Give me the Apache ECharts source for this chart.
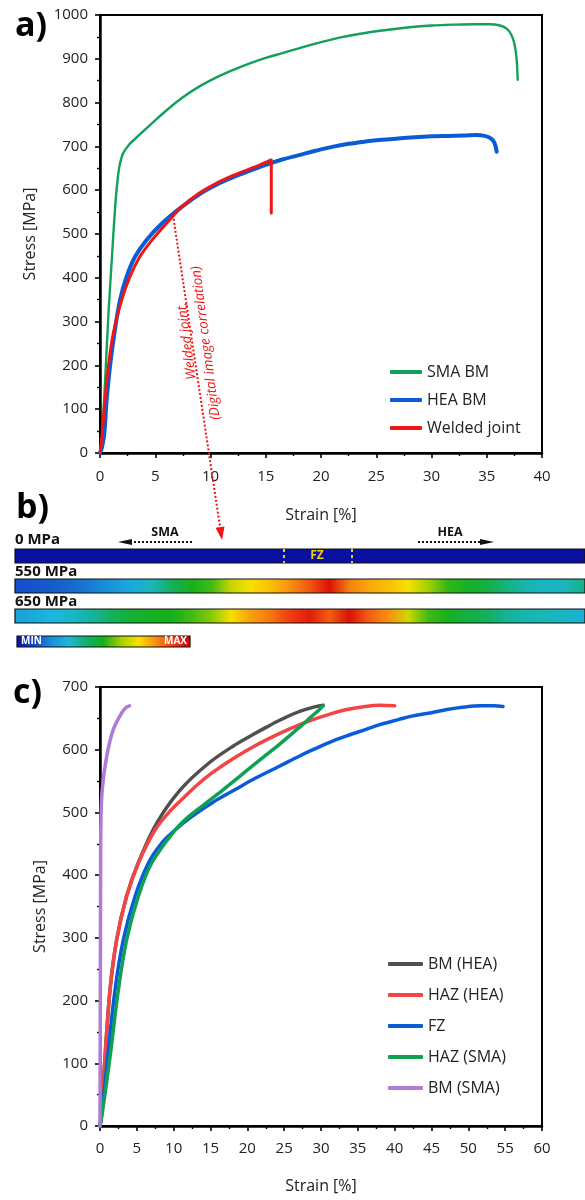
<!DOCTYPE html>
<html>
<head>
<meta charset="utf-8">
<script src="https://cdn.jsdelivr.net/npm/echarts@6/dist/echarts.min.js"></script>
<style>
  html, body { margin: 0; padding: 0; background: #fff; }
  #chart { width: 585px; height: 1200px; }
</style>
</head>
<body>
<div id="chart"></div>
<script>
// (a) tensile curves, [strain %, stress MPa]
const smaBM = [[0,0],[0.2,45],[0.45,159],[0.75,311],[1.12,463],[1.42,578],[1.62,630],[1.8,660],[2.1,685],[2.6,703],[3.2,718],[3.8,732],[4.5,748],[6,782],[7.5,812],[9,837],[10.5,857],[12,874],[13.5,889],[15,902],[16.5,913],[18,924],[20,938],[22,950],[24,959],[26,966],[28,972],[30,976],[32,978],[34,979],[35.3,979],[36.2,976],[36.8,969],[37.2,956],[37.5,935],[37.7,900],[37.8,852]];
const heaBM = [[0,0],[0.15,10],[0.39,45],[0.6,121],[0.9,197],[1.3,273],[1.81,349],[2.4,402],[3.17,448],[4.2,486],[5.6,524],[7.4,562],[9.2,594],[10.5,612],[12,629],[13.5,644],[15,658],[16.5,670],[18,680],[19.5,690],[21,699],[22.5,706],[24,711],[25.5,715],[27,718],[28.5,721],[30,723],[31.5,724],[33,725],[34,726],[34.8,724],[35.4,718],[35.7,708],[35.9,688]];
const weldedJoint = [[0,0],[0.15,30],[0.45,121],[0.75,197],[1.2,273],[1.96,349],[2.7,402],[3.6,448],[4.7,486],[6.0,524],[7.4,562],[8.9,592],[10.4,614],[12,633],[13.5,648],[14.5,658],[15.2,666],[15.5,669],[15.5,548]];

// (c) local curves of the joint zones, [strain %, stress MPa]
const bmHEA = [[0,0],[0.2,20],[0.68,110],[1.36,217],[2.26,297],[3.6,366],[5.2,420],[7.7,483],[10.9,536],[14.7,578],[18.1,606],[20.6,623],[22.6,636],[24.4,647],[27.1,661],[29,668],[30.3,671]];
const hazHEA = [[0,0],[0.2,20],[0.68,110],[1.36,217],[2.26,297],[3.6,366],[5.2,419],[7.47,472],[9.5,502],[11.5,525],[13.3,545],[15.2,563],[18.1,586],[21,606],[24.4,626],[27.1,640],[28.9,648],[31,656],[33.5,664],[36,669],[38,671],[40,670]];
const fzCurve = [[0,0],[0.25,20],[1.04,110],[2.04,217],[3.17,297],[4.75,366],[6.56,419],[8.3,450],[10.2,472],[12.4,493],[15.3,516],[18.3,536],[21,554],[24.4,574],[27.1,590],[28.9,600],[31,611],[33.5,622],[36,632],[38,640],[40.5,648],[42.5,654],[45,659],[47.1,664],[49.5,668],[51.6,670],[53.5,670],[54.7,669]];
const hazSMA = [[0,0],[0.3,20],[1.36,110],[2.49,217],[3.62,297],[5.2,366],[7.0,419],[10.2,472],[12.0,493],[14.3,514],[16.7,536],[18.8,556],[21.0,577],[22.6,592],[24.4,609],[25.6,621],[26.7,632],[27.8,643],[28.9,655],[29.7,663],[30.3,670]];
const bmSMA = [[0,0],[0.02,100],[0.05,250],[0.08,400],[0.12,483],[0.3,536],[0.9,589],[1.8,632],[2.9,658],[3.5,667],[4.0,670]];

// (b) normalised strain field (0 = min, 1 = max), sampled evenly from the SMA end to the HEA end
const fieldLevels = ['0 MPa', '550 MPa', '650 MPa'];
const field0 = [0,0,0,0,0,0,0,0,0,0,0,0,0,0,0,0,0,0,0,0,0,0,0,0,0,0,0,0,0,0];
const field550 = [0.11,0.12,0.13,0.15,0.18,0.22,0.27,0.33,0.42,0.5,0.53,0.64,0.7,0.74,0.8,0.87,0.97,0.82,0.77,0.74,0.7,0.6,0.52,0.49,0.45,0.38,0.34,0.32,0.33,0.38];
const field650 = [0.24,0.27,0.3,0.32,0.36,0.42,0.47,0.49,0.5,0.53,0.58,0.7,0.78,0.83,0.9,0.95,0.86,0.97,0.86,0.8,0.65,0.53,0.5,0.45,0.42,0.36,0.34,0.33,0.32,0.28];
const fields = [field0, field550, field650];

// jet-like colour scale for the strain field
const jet = ['#0a10a0','#1446c8','#1a8ed8','#1ab8dc','#12b068','#16b01c','#a4d000','#f8e000','#f89010','#f03c10','#d00000'];
function hexToRgb(h) { return [parseInt(h.substr(1,2),16), parseInt(h.substr(3,2),16), parseInt(h.substr(5,2),16)]; }
function jetColor(v) {
  const t = Math.max(0, Math.min(1, v)) * (jet.length - 1);
  const i = Math.min(jet.length - 2, Math.floor(t));
  const f = t - i;
  const a = hexToRgb(jet[i]), b = hexToRgb(jet[i + 1]);
  const c = a.map((x, k) => Math.round(x + (b[k] - x) * f));
  return 'rgb(' + c.join(',') + ')';
}

const FONT = "'Open Sans', 'DejaVu Sans', sans-serif";
const chart = echarts.init(document.getElementById('chart'), null, { renderer: 'canvas' });

function valueAxis(extra, margin) {
  return Object.assign({
    type: 'value',
    nameLocation: 'middle',
    nameTextStyle: { fontFamily: FONT, fontSize: 16, color: '#222' },
    axisLine: { show: true, onZero: false, lineStyle: { color: '#000', width: 2.5 } },
    axisTick: { show: true, inside: false, length: 5, lineStyle: { color: '#000', width: 1.6 } },
    minorTick: { show: true, splitNumber: 2, length: 3, lineStyle: { color: '#000', width: 1.4 } },
    splitLine: { show: false },
    axisLabel: { fontFamily: FONT, fontSize: 15, color: '#222', margin: margin, formatter: v => String(v) }
  }, extra);
}

function curve(name, data, color, width, xi) {
  return {
    type: 'line', name, data, xAxisIndex: xi, yAxisIndex: xi,
    symbol: 'none', smooth: 0.35, clip: true,
    lineStyle: { color, width, cap: 'round', join: 'round' },
    itemStyle: { color }
  };
}

// dotted red pointer from the welded joint curve down to the strain maps
const p0 = [173, 215], tip = [222, 540];
const dx = tip[0] - p0[0], dy = tip[1] - p0[1], len = Math.hypot(dx, dy);
const ux = dx / len, uy = dy / len;
const base = [tip[0] - 13 * ux, tip[1] - 13 * uy];

const legendText = { fontFamily: FONT, fontSize: 16, color: '#222' };

const option = {
  backgroundColor: '#fff',
  animation: false,
  grid: [
    { left: 100, top: 15, width: 442, height: 438, show: true, borderColor: '#000', borderWidth: 2 },
    { left: 100, top: 687, width: 442, height: 439, show: true, borderColor: '#000', borderWidth: 2 },
    { left: 15, top: 541, width: 570, height: 90 }
  ],
  xAxis: [
    valueAxis({ gridIndex: 0, min: 0, max: 40, interval: 5, name: 'Strain [%]', nameGap: 54 }, 16),
    valueAxis({ gridIndex: 1, min: 0, max: 60, interval: 5, name: 'Strain [%]', nameGap: 52 }, 15),
    { type: 'value', gridIndex: 2, min: 0, max: 1, show: false }
  ],
  yAxis: [
    valueAxis({ gridIndex: 0, min: 0, max: 1000, interval: 100, name: 'Stress [MPa]', nameGap: 62 }, 12),
    valueAxis({ gridIndex: 1, min: 0, max: 700, interval: 100, name: 'Stress [MPa]', nameGap: 52 }, 12),
    { type: 'category', gridIndex: 2, data: fieldLevels, inverse: true, show: false }
  ],
  legend: [
    {
      data: ['SMA BM', 'HEA BM', 'Welded joint'],
      orient: 'vertical', left: 385, top: 359, icon: 'roundRect', itemWidth: 32, itemHeight: 4, itemGap: 12,
      textStyle: legendText, selectedMode: false
    },
    {
      data: ['BM (HEA)', 'HAZ (HEA)', 'FZ', 'HAZ (SMA)', 'BM (SMA)'],
      orient: 'vertical', left: 383, top: 951, icon: 'roundRect', itemWidth: 35, itemHeight: 4, itemGap: 15,
      textStyle: legendText, selectedMode: false
    }
  ],
  series: [
    curve('SMA BM', smaBM, '#12a05a', 2.4, 0),
    curve('HEA BM', heaBM, '#0a5cd6', 4, 0),
    curve('Welded joint', weldedJoint, '#f01414', 3, 0),
    curve('BM (HEA)', bmHEA, '#505050', 3.5, 1),
    curve('HAZ (HEA)', hazHEA, '#f24646', 3.5, 1),
    curve('FZ', fzCurve, '#0a5cd6', 3.5, 1),
    curve('HAZ (SMA)', hazSMA, '#10a054', 3.5, 1),
    curve('BM (SMA)', bmSMA, '#b07ad8', 3.5, 1),
    {
      type: 'custom', xAxisIndex: 2, yAxisIndex: 2,
      data: fieldLevels.map((lv, i) => [0, i]),
      renderItem: function (params, api) {
        const row = api.value(1);
        const vals = fields[row];
        const a = api.coord([0, row]);
        const b = api.coord([1, row]);
        const h = 14;
        const stops = vals.map((v, i) => ({ offset: i / (vals.length - 1), color: jetColor(v) }));
        return {
          type: 'rect',
          shape: { x: a[0], y: a[1] - h / 2, width: b[0] - a[0], height: h },
          style: { fill: new echarts.graphic.LinearGradient(0, 0, 1, 0, stops), stroke: '#111', lineWidth: 1.2 }
        };
      }
    }
  ],
  graphic: [
    { type: 'text', x: 15, y: 26, style: { text: 'a)', font: "bold 34px " + FONT, fill: '#000', verticalAlign: 'middle' } },
    { type: 'text', x: 16, y: 508, style: { text: 'b)', font: "bold 34px " + FONT, fill: '#000', verticalAlign: 'middle' } },
    { type: 'text', x: 13, y: 693, style: { text: 'c)', font: "bold 34px " + FONT, fill: '#000', verticalAlign: 'middle' } },

    // pointer line and labels
    { type: 'line', z: 50, shape: { x1: p0[0], y1: p0[1], x2: base[0], y2: base[1] }, style: { stroke: '#f01414', lineWidth: 2, lineDash: [2, 2] } },
    { type: 'polygon', z: 50, shape: { points: [tip, [base[0] + 4.5 * uy, base[1] - 4.5 * ux], [base[0] - 4.5 * uy, base[1] + 4.5 * ux]] }, style: { fill: '#f01414' } },
    { type: 'text', z: 50, x: 187, y: 341, rotation: 1.70, style: { text: 'Welded joint,', font: "italic 13.5px " + FONT, fill: '#f01414', align: 'center', verticalAlign: 'middle' } },
    { type: 'text', z: 50, x: 206, y: 343, rotation: 1.70, style: { text: '(Digital image correlation)', font: "italic 13.5px " + FONT, fill: '#f01414', align: 'center', verticalAlign: 'middle' } },

    // strain map labels
    { type: 'text', x: 15, y: 540, style: { text: '0 MPa', font: "bold 15px " + FONT, fill: '#111', verticalAlign: 'middle' } },
    { type: 'text', x: 15, y: 572, style: { text: '550 MPa', font: "bold 15px " + FONT, fill: '#111', verticalAlign: 'middle' } },
    { type: 'text', x: 15, y: 602, style: { text: '650 MPa', font: "bold 15px " + FONT, fill: '#111', verticalAlign: 'middle' } },
    { type: 'text', x: 165, y: 532, style: { text: 'SMA', font: "bold 12.5px " + FONT, fill: '#111', align: 'center', verticalAlign: 'middle' } },
    { type: 'text', x: 450, y: 532, style: { text: 'HEA', font: "bold 12.5px " + FONT, fill: '#111', align: 'center', verticalAlign: 'middle' } },
    { type: 'line', shape: { x1: 130, y1: 542, x2: 194, y2: 542 }, style: { stroke: '#111', lineWidth: 2, lineDash: [2, 2] } },
    { type: 'polygon', shape: { points: [[118, 542], [132, 539], [132, 545]] }, style: { fill: '#111' } },
    { type: 'line', shape: { x1: 418, y1: 542, x2: 480, y2: 542 }, style: { stroke: '#111', lineWidth: 2, lineDash: [2, 2] } },
    { type: 'polygon', shape: { points: [[494, 542], [480, 539], [480, 545]] }, style: { fill: '#111' } },

    // fusion zone bounds on the unloaded map
    { type: 'line', z: 60, shape: { x1: 284, y1: 549, x2: 284, y2: 563 }, style: { stroke: '#f0d000', lineWidth: 2, lineDash: [3, 3] } },
    { type: 'line', z: 60, shape: { x1: 352, y1: 549, x2: 352, y2: 563 }, style: { stroke: '#f0d000', lineWidth: 2, lineDash: [3, 3] } },
    { type: 'text', z: 60, x: 317, y: 556, style: { text: 'FZ', font: "bold 12px " + FONT, fill: '#f0d000', align: 'center', verticalAlign: 'middle' } },

    // colour scale
    { type: 'rect', shape: { x: 17, y: 636, width: 173, height: 11 },
      style: { fill: new echarts.graphic.LinearGradient(0, 0, 1, 0, jet.map((c, i) => ({ offset: i / (jet.length - 1), color: c }))), stroke: '#111', lineWidth: 1.2 } },
    { type: 'text', x: 21, y: 641.5, style: { text: 'MIN', font: "bold 10px " + FONT, fill: '#fff', verticalAlign: 'middle' } },
    { type: 'text', x: 187, y: 641.5, style: { text: 'MAX', font: "bold 10px " + FONT, fill: '#fff', align: 'right', verticalAlign: 'middle' } }
  ]
};

chart.setOption(option);
</script>
</body>
</html>
